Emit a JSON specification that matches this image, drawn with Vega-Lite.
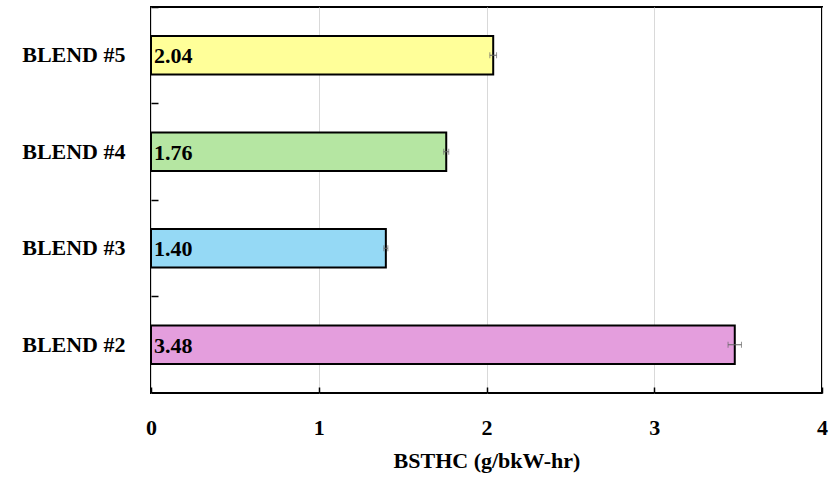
{
  "$schema": "https://vega.github.io/schema/vega-lite/v6.json",
  "autosize": "none",
  "width": 671,
  "height": 386,
  "padding": {"left": 151, "top": 7, "right": 9, "bottom": 84},
  "background": "white",
  "config": {
    "view": {"stroke": "black", "strokeWidth": 2},
    "font": "Liberation Serif"
  },
  "data": {
    "values": [
      {"blend": "BLEND #5", "value": 2.04, "err": 0.02, "color": "#FFFF99"},
      {"blend": "BLEND #4", "value": 1.76, "err": 0.015, "color": "#B5E6A2"},
      {"blend": "BLEND #3", "value": 1.40, "err": 0.012, "color": "#95D9F5"},
      {"blend": "BLEND #2", "value": 3.48, "err": 0.04, "color": "#E49EDD"}
    ]
  },
  "encoding": {
    "y": {
      "field": "blend",
      "type": "nominal",
      "sort": ["BLEND #5", "BLEND #4", "BLEND #3", "BLEND #2"],
      "scale": {"paddingInner": 0.6, "paddingOuter": 0.3},
      "axis": {
        "title": null,
        "domain": false,
        "bandPosition": -0.75,
        "tickSize": -7,
        "tickColor": "black",
        "tickWidth": 1.5,
        "labelFont": "Liberation Serif",
        "labelFontWeight": "bold",
        "labelFontSize": 22,
        "labelColor": "black",
        "labelPadding": 33
      }
    }
  },
  "layer": [
    {
      "mark": {"type": "bar", "stroke": "black", "strokeWidth": 2},
      "encoding": {
        "x": {
          "field": "value",
          "type": "quantitative",
          "title": "BSTHC (g/bkW-hr)",
          "scale": {"domain": [0, 4]},
          "axis": {
            "titleFont": "Liberation Serif",
            "titleFontWeight": "bold",
            "titleFontSize": 22,
            "titleColor": "black",
            "titlePadding": 12,
            "values": [0, 1, 2, 3, 4],
            "format": "d",
            "domain": false,
            "grid": true,
            "gridColor": "#d9d9d9",
            "gridWidth": 1,
            "tickSize": -6,
            "tickColor": "black",
            "tickWidth": 1.5,
            "labelFont": "Liberation Serif",
            "labelFontWeight": "bold",
            "labelFontSize": 22,
            "labelColor": "black",
            "labelPadding": 30,
            "labelFlush": false,
            "labelOverlap": false
          }
        },
        "color": {"field": "color", "type": "nominal", "scale": null}
      }
    },
    {
      "mark": {"type": "errorbar", "ticks": {"size": 6, "color": "#666666"}, "rule": {"color": "#666666"}},
      "encoding": {
        "x": {"field": "value", "type": "quantitative", "title": "BSTHC (g/bkW-hr)"},
        "xError": {"field": "err"}
      }
    },
    {
      "mark": {"type": "text", "align": "left", "baseline": "middle", "dx": 3, "dy": 1, "fontSize": 22, "fontWeight": "bold", "font": "Liberation Serif", "color": "black"},
      "encoding": {
        "x": {"datum": 0, "type": "quantitative"},
        "text": {"field": "value", "type": "quantitative", "format": ".2f"}
      }
    }
  ]
}
